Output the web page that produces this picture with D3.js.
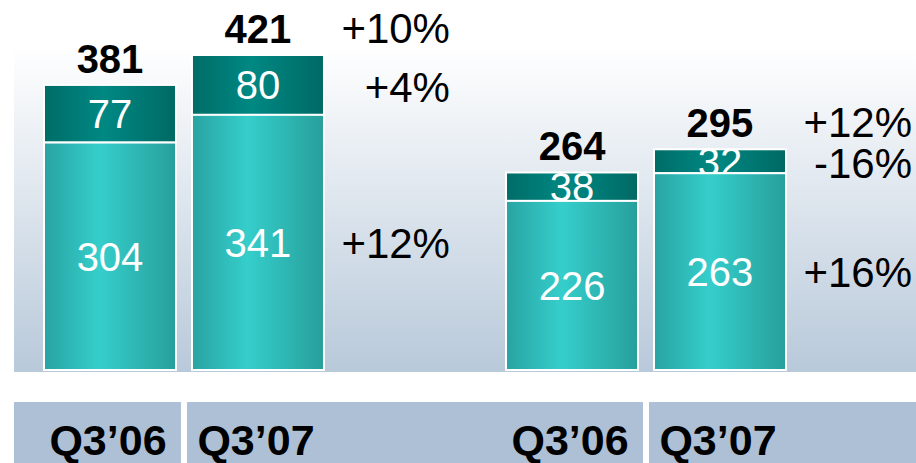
<!DOCTYPE html>
<html>
<head>
<meta charset="utf-8">
<script src="https://cdn.jsdelivr.net/npm/d3@7"></script>
<style>
  body { margin: 0; background: #fff; }
  text { font-family: "Liberation Sans", Arial, sans-serif; }
</style>
</head>
<body>
<div id="chart"></div>
<script>
// Data
var groups = ["left", "right"];
var quarters = ["Q3\u201906", "Q3\u201907"];
var baseValues = [[304, 341], [226, 263]];
var topValues = [[77, 80], [38, 32]];
var totalValues = [[381, 421], [264, 295]];
var totalGrowth = ["+10%", "+12%"];
var topGrowth = ["+4%", "-16%"];
var baseGrowth = ["+12%", "+16%"];

var svgWidth = 916;
var svgHeight = 463;

var svg = d3.select("#chart")
  .append("svg")
  .attr("width", svgWidth)
  .attr("height", svgHeight);

var defs = svg.append("defs");

// gradients
function hGradient(id, stops) {
  var g = defs.append("linearGradient").attr("id", id)
    .attr("x1", 0).attr("x2", 1).attr("y1", 0).attr("y2", 0);
  stops.forEach(function(s) {
    g.append("stop").attr("offset", s[0]).attr("stop-color", s[1]);
  });
}
hGradient("baseFill", [["0%", "#28a3a2"], ["42%", "#35cecb"], ["100%", "#279f9b"]]);
hGradient("topFill", [["0%", "#006c67"], ["45%", "#008883"], ["100%", "#006964"]]);

var bg = defs.append("linearGradient").attr("id", "panelFill")
  .attr("x1", 0).attr("x2", 0).attr("y1", 0).attr("y2", 1);
bg.append("stop").attr("offset", "0%").attr("stop-color", "#ffffff");
bg.append("stop").attr("offset", "100%").attr("stop-color", "#b8c9da");

// scales
var y = d3.scaleLinear().domain([0, 421]).range([370, 55]);
var xGroup = d3.scaleBand().domain(groups).range([44, 786]).paddingInner(0.394);
var xBar = d3.scaleBand().domain(quarters).range([0, xGroup.bandwidth()]).paddingInner(0.108);

var panelLeft = 14;

// background panel
svg.append("rect")
  .attr("x", panelLeft)
  .attr("y", 47)
  .attr("width", svgWidth - panelLeft)
  .attr("height", y(0) + 2 - 47)
  .attr("fill", "url(#panelFill)");

// bottom label band, split at the bars
var bandEdges = [panelLeft,
  xGroup("left") + xBar(quarters[1]) - 5,
  xGroup("right") + xBar(quarters[1]) - 5,
  svgWidth + 6];
svg.selectAll("rect.band")
  .data(d3.range(3))
  .enter()
  .append("rect")
  .attr("class", "band")
  .attr("x", d => bandEdges[d])
  .attr("y", 402)
  .attr("width", d => bandEdges[d + 1] - bandEdges[d] - 6)
  .attr("height", svgHeight - 402)
  .attr("fill", "#adc0d5");

// flatten bars
var bars = [];
groups.forEach(function(g, gi) {
  quarters.forEach(function(q, qi) {
    bars.push({
      group: g, quarter: q,
      base: baseValues[gi][qi],
      top: topValues[gi][qi],
      total: totalValues[gi][qi],
      x: xGroup(g) + xBar(q)
    });
  });
});
var bw = xBar.bandwidth();

var chart = svg.append("g");

// top segments first so the base segments cover label overflow
chart.selectAll("rect.top")
  .data(bars)
  .enter()
  .append("rect")
  .attr("class", "top")
  .attr("x", d => d.x)
  .attr("y", d => y(d.total))
  .attr("width", bw)
  .attr("height", d => y(d.base) - y(d.total))
  .attr("fill", "url(#topFill)")
  .attr("stroke", "#fff")
  .attr("stroke-width", 2);

chart.selectAll("text.topval")
  .data(bars)
  .enter()
  .append("text")
  .attr("class", "topval")
  .attr("x", d => d.x + bw / 2)
  .attr("y", d => (y(d.base) + y(d.total)) / 2)
  .attr("dy", "0.36em")
  .attr("text-anchor", "middle")
  .attr("font-size", 40)
  .attr("fill", "#fff")
  .text(d => d.top);

chart.selectAll("rect.base")
  .data(bars)
  .enter()
  .append("rect")
  .attr("class", "base")
  .attr("x", d => d.x)
  .attr("y", d => y(d.base))
  .attr("width", bw)
  .attr("height", d => y(0) - y(d.base))
  .attr("fill", "url(#baseFill)")
  .attr("stroke", "#fff")
  .attr("stroke-width", 2);

chart.selectAll("text.baseval")
  .data(bars)
  .enter()
  .append("text")
  .attr("class", "baseval")
  .attr("x", d => d.x + bw / 2)
  .attr("y", d => (y(d.base) + y(0)) / 2)
  .attr("dy", "0.36em")
  .attr("text-anchor", "middle")
  .attr("font-size", 40)
  .attr("fill", "#fff")
  .text(d => d.base);

// totals above bars
chart.selectAll("text.total")
  .data(bars)
  .enter()
  .append("text")
  .attr("class", "total")
  .attr("x", d => d.x + bw / 2)
  .attr("y", d => y(d.total) - 12)
  .attr("text-anchor", "middle")
  .attr("font-size", 40)
  .attr("font-weight", "bold")
  .attr("fill", "#000")
  .text(d => d.total);

// growth labels, right of each group
var pctX = g => xGroup(g) + xGroup.bandwidth() + 126;
var last = groups.map((g, gi) => bars[gi * 2 + 1]);

var pct = chart.append("g")
  .attr("text-anchor", "end")
  .attr("font-size", 42)
  .attr("fill", "#000");

pct.selectAll("text.tg")
  .data(groups)
  .enter()
  .append("text")
  .attr("x", g => pctX(g))
  .attr("y", (g, i) => y(last[i].total) - 12)
  .text((g, i) => totalGrowth[i]);

pct.selectAll("text.pg")
  .data(groups)
  .enter()
  .append("text")
  .attr("x", g => pctX(g))
  .attr("y", (g, i) => (y(last[i].base) + y(last[i].total)) / 2 + 2)
  .attr("dy", "0.36em")
  .text((g, i) => topGrowth[i]);

pct.selectAll("text.bg")
  .data(groups)
  .enter()
  .append("text")
  .attr("x", g => pctX(g))
  .attr("y", (g, i) => (y(last[i].base) + y(0)) / 2)
  .attr("dy", "0.36em")
  .text((g, i) => baseGrowth[i]);

// quarter labels in the band
chart.selectAll("text.cat")
  .data(bars)
  .enter()
  .append("text")
  .attr("class", "cat")
  .attr("x", d => d.x + bw / 2 - 2)
  .attr("y", 455)
  .attr("text-anchor", "middle")
  .attr("font-size", 43)
  .attr("font-weight", "bold")
  .attr("fill", "#000")
  .text(d => d.quarter);
</script>
</body>
</html>
